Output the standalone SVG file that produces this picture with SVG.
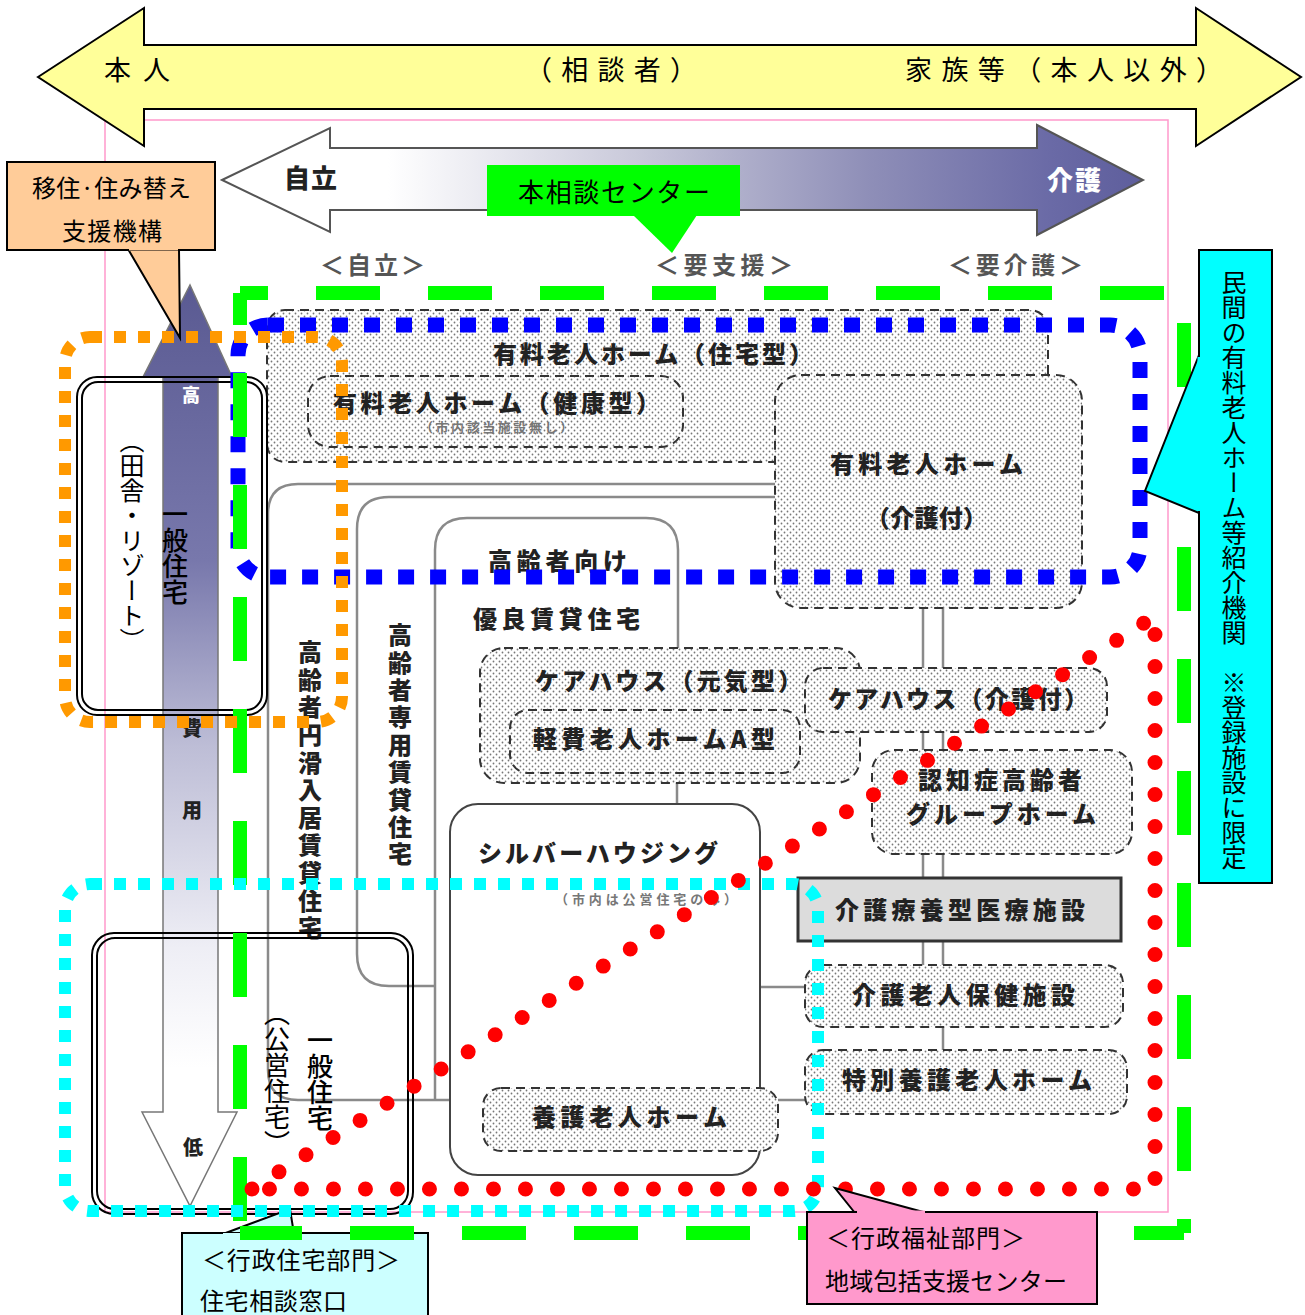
<svg xmlns="http://www.w3.org/2000/svg" width="1305" height="1315" viewBox="0 0 1305 1315">
<defs>
<pattern id="dots" width="6" height="6" patternUnits="userSpaceOnUse">
<rect width="6" height="6" fill="#fff"/>
<circle cx="1.5" cy="1.5" r="0.9" fill="#777"/>
<circle cx="4.5" cy="4.5" r="0.9" fill="#777"/>
</pattern>
<linearGradient id="gh" x1="222" y1="0" x2="1143" y2="0" gradientUnits="userSpaceOnUse">
<stop offset="0" stop-color="#ffffff"/>
<stop offset="0.18" stop-color="#ffffff"/>
<stop offset="0.45" stop-color="#c9c9da"/>
<stop offset="0.7" stop-color="#8f8fb8"/>
<stop offset="0.9" stop-color="#6a6aa6"/>
<stop offset="1" stop-color="#5e5e9c"/>
</linearGradient>
<linearGradient id="gv" x1="0" y1="285" x2="0" y2="1206" gradientUnits="userSpaceOnUse">
<stop offset="0" stop-color="#5a5a92"/>
<stop offset="0.3" stop-color="#7878ac"/>
<stop offset="0.5" stop-color="#bdbdd6"/>
<stop offset="0.72" stop-color="#eeeef5"/>
<stop offset="0.85" stop-color="#ffffff"/>
<stop offset="1" stop-color="#ffffff"/>
</linearGradient>
<style>
.jp{font-family:"Noto Sans CJK JP","Noto Sans",sans-serif}
.lb{font-family:"Noto Sans CJK JP","Noto Sans",sans-serif;font-weight:900;font-size:24px;fill:#222}
.sm{font-family:"Noto Sans CJK JP","Noto Sans",sans-serif;font-weight:700;font-size:13px;fill:#777}
.bx{fill:url(#dots);stroke:#333;stroke-width:2;stroke-dasharray:9 6}
.ln{fill:none;stroke:#8a8a8a;stroke-width:2.5}
.vt{writing-mode:vertical-rl}
.dl{fill:none;stroke:#000;stroke-width:2}
.co{stroke:#000;stroke-width:2}
</style>
</defs>
<rect width="1305" height="1315" fill="#fff"/>

<!-- pink frame -->
<rect x="105" y="120" width="1063" height="1092" fill="none" stroke="#ff99cc" stroke-width="1.5"/>

<!-- yellow double arrow -->
<g id="arrow-consulter">
<polygon points="38,77 144,8 144,45 1196,45 1196,8 1301,77 1196,146 1196,109 144,109 144,146" fill="#ffff99" stroke="#000" stroke-width="2"/>
<text class="jp" x="104" y="80" font-size="27" textLength="66">本人</text>
<text class="jp" x="525" y="80" font-size="27" textLength="172">（相談者）</text>
<text class="jp" x="905" y="80" font-size="27" textLength="318">家族等（本人以外）</text>
</g>

<!-- gradient arrow -->
<g id="arrow-care">
<polygon points="222,180 330,128 330,148 1037,148 1037,125 1143,180 1037,235 1037,210 330,210 330,232" fill="url(#gh)" stroke="#555" stroke-width="2"/>
<text class="jp" x="284" y="188" font-size="26" font-weight="900" fill="#222" textLength="53">自立</text>
<text class="jp" x="1047" y="190" font-size="26" font-weight="900" fill="#fff" textLength="54">介護</text>
</g>

<g id="levels">
<text class="jp" x="320" y="274" font-size="24" font-weight="700" fill="#555" textLength="105">＜自立＞</text>
<text class="jp" x="655" y="274" font-size="24" font-weight="700" fill="#555" textLength="138">＜要支援＞</text>
<text class="jp" x="948" y="274" font-size="24" font-weight="700" fill="#555" textLength="135">＜要介護＞</text>
</g>

<!-- connectors -->
<g id="connectors">
<path class="ln" d="M775 484 H298 Q268 484 268 514 V1070 Q268 1100 298 1100 H450"/>
<path class="ln" d="M775 497 H389 Q357 497 357 529 V954 Q357 986 389 986 H435"/>
<path class="ln" d="M435 1100 V550 Q435 518 467 518 H646 Q678 518 678 550 V648"/>
<path class="ln" d="M677 783 V804"/>
<path class="ln" d="M923 608 V965"/>
<path class="ln" d="M943 608 V1050"/>
<path class="ln" d="M760 987 H805"/>
<path class="ln" d="M778 1100 H805"/>
</g>

<g id="n-jutaku">
<rect class="bx" x="267" y="310" width="781" height="152" rx="18"/>
<text class="lb" x="493" y="363" textLength="320">有料老人ホーム（住宅型）</text>
</g>
<g id="n-kenkou">
<rect class="bx" x="308" y="376" width="375" height="71" rx="22"/>
<text class="lb" x="333" y="412" textLength="327">有料老人ホーム（健康型）</text>
<text class="sm" x="420" y="432" textLength="153">（市内該当施設無し）</text>
</g>
<g id="n-kaigotsuki">
<rect class="bx" x="775" y="375" width="307" height="233" rx="26"/>
<text class="lb" x="830" y="473" textLength="193">有料老人ホーム</text>
<text class="lb" x="866" y="527" textLength="121">（介護付）</text>
</g>
<g id="n-kouyuchin">
<text class="lb" x="488" y="570" textLength="139">高齢者向け</text>
<text class="lb" x="473" y="628" textLength="167">優良賃貸住宅</text>
</g>
<g id="n-kouenchin">
<text class="lb vt" x="310" y="640" letter-spacing="3.6">高齢者円滑入居賃貸住宅</text>
</g>
<g id="n-kousenchin">
<text class="lb vt" x="400" y="623" letter-spacing="3.4">高齢者専用賃貸住宅</text>
</g>
<g id="n-genki">
<rect class="bx" x="480" y="648" width="380" height="135" rx="24"/>
<text class="lb" x="535" y="690" textLength="267">ケアハウス（元気型）</text>
</g>
<g id="n-keihi">
<rect class="bx" x="510" y="710" width="290" height="63" rx="18"/>
<text class="lb" x="533" y="748" textLength="242">軽費老人ホームA型</text>
</g>
<g id="n-caretsuki">
<rect class="bx" x="805" y="668" width="302" height="64" rx="18"/>
<text class="lb" x="828" y="708" textLength="260">ケアハウス（介護付）</text>
</g>
<g id="n-ninchi">
<rect class="bx" x="872" y="750" width="260" height="104" rx="22"/>
<text class="lb" x="918" y="789" textLength="164">認知症高齢者</text>
<text class="lb" x="906" y="823" textLength="190">グループホーム</text>
</g>
<g id="n-ryouyou">
<rect x="798" y="878" width="323" height="63" fill="#dcdcdc" stroke="#333" stroke-width="3"/>
<text class="lb" x="835" y="919" textLength="250">介護療養型医療施設</text>
</g>
<g id="n-rouken">
<rect class="bx" x="805" y="965" width="318" height="62" rx="18"/>
<text class="lb" x="852" y="1004" textLength="223">介護老人保健施設</text>
</g>
<g id="n-tokuyou">
<rect class="bx" x="805" y="1050" width="322" height="64" rx="18"/>
<text class="lb" x="842" y="1089" textLength="250">特別養護老人ホーム</text>
</g>
<g id="n-silver">
<rect x="450" y="804" width="310" height="371" rx="28" fill="#fff" stroke="#444" stroke-width="2"/>
<text class="lb" x="478" y="862" textLength="240">シルバーハウジング</text>
<text class="sm" x="555" y="904" textLength="182">（市内は公営住宅のみ）</text>
</g>
<g id="n-yougo">
<rect class="bx" x="483" y="1088" width="295" height="63" rx="18"/>
<text class="lb" x="532" y="1126" textLength="195">養護老人ホーム</text>
</g>

<!-- cost arrow -->
<g id="arrow-cost">
<polygon points="190,285 232,377 218,377 218,1112 237,1112 190,1206 142,1112 163,1112 163,377 143,377" fill="url(#gv)" stroke="#777" stroke-width="1.5"/>
<text class="jp" x="191" y="402" font-size="18" font-weight="900" fill="#fff" text-anchor="middle">高</text>
<text class="jp" x="192" y="736" font-size="20" font-weight="900" fill="#222" text-anchor="middle">費</text>
<text class="jp" x="192" y="818" font-size="20" font-weight="900" fill="#222" text-anchor="middle">用</text>
<text class="jp" x="193" y="1155" font-size="20" font-weight="900" fill="#222" text-anchor="middle">低</text>
</g>

<g id="n-inaka">
<rect class="dl" x="77" y="377" width="190" height="338" rx="20"/>
<rect class="dl" x="82" y="382" width="180" height="328" rx="16"/>
<text class="jp vt" x="132" y="428" font-size="25" fill="#000">（田舎・リゾート）</text>
<text class="jp vt" x="175" y="501" font-size="26" font-weight="500" fill="#000">一般住宅</text>
</g>
<g id="n-kouei">
<rect class="dl" x="92" y="933" width="321" height="281" rx="22"/>
<rect class="dl" x="97" y="938" width="311" height="271" rx="18"/>
<text class="jp vt" x="320" y="1027" font-size="26" font-weight="500" fill="#000">一般住宅</text>
<text class="jp vt" x="277" y="1000" font-size="26" fill="#000">（公営住宅）</text>
</g>

<!-- light cyan callout (behind green) -->
<g id="n-jutakumadoguchi">
<polygon points="223,1234 290,1209 294,1234" fill="#ccffff" class="co"/>
<rect x="182" y="1233" width="246" height="95" fill="#ccffff" class="co"/>
<line x1="223" y1="1234" x2="294" y2="1234" stroke="#ccffff" stroke-width="2"/>
<text class="jp" x="202" y="1269" font-size="24" textLength="198">＜行政住宅部門＞</text>
<text class="jp" x="200" y="1310" font-size="24" textLength="147">住宅相談窓口</text>
</g>

<!-- region outlines -->
<g id="regions" fill="none">
<rect x="238" y="325" width="902" height="252" rx="30" stroke="#0000ff" stroke-width="15" stroke-dasharray="16 16"/>
<path d="M240 293 H1184" stroke="#00ff00" stroke-width="14" stroke-dasharray="64 48" stroke-dashoffset="36"/>
<path d="M1184 293 V1233" stroke="#00ff00" stroke-width="14" stroke-dasharray="64 48" stroke-dashoffset="82"/>
<path d="M1184 1233 H240" stroke="#00ff00" stroke-width="14" stroke-dasharray="64 48" stroke-dashoffset="14"/>
<path d="M240 293 V1233" stroke="#00ff00" stroke-width="14" stroke-dasharray="64 48" stroke-dashoffset="32"/>
<rect x="65" y="337" width="277" height="385" rx="25" stroke="#ff9900" stroke-width="12" stroke-dasharray="12 12"/>
<rect x="65" y="884" width="753" height="327" rx="25" stroke="#00ffff" stroke-width="12" stroke-dasharray="12 12"/>
<path d="M252 1189 L1155 616 V1189 Z" stroke="#ff0000" stroke-width="15" stroke-linecap="round" stroke-dasharray="0 32"/>
</g>

<!-- callouts -->
<g id="n-center">
<rect x="487" y="165" width="253" height="51" fill="#00ff00"/>
<polygon points="633,215 697,215 672,253" fill="#00ff00"/>
<text class="jp" x="518" y="202" font-size="26" textLength="192">本相談センター</text>
</g>
<g id="n-iju">
<polygon points="128,249 180,338 179,249" fill="#ffcc99" class="co"/>
<rect x="7" y="162" width="208" height="88" fill="#ffcc99" class="co"/>
<line x1="129" y1="249" x2="178" y2="249" stroke="#ffcc99" stroke-width="3"/>
<text class="jp" x="32" y="197" font-size="24" textLength="159">移住·住み替え</text>
<text class="jp" x="62" y="240" font-size="24" textLength="100">支援機構</text>
</g>
<g id="n-minkan">
<polygon points="1199,355 1145,491 1199,513" fill="#00ffff" class="co"/>
<rect x="1199" y="250" width="73" height="633" fill="#00ffff" class="co"/>
<line x1="1199" y1="357" x2="1199" y2="511" stroke="#00ffff" stroke-width="3"/>
<text class="jp vt" x="1234" y="270" font-size="25" fill="#000">民間の有料老人ホーム等紹介機関　※登録施設に限定</text>
</g>
<g id="n-houkatsu">
<polygon points="855,1213 835,1188 927,1213" fill="#ff99cc" class="co"/>
<rect x="807" y="1212" width="290" height="92" fill="#ff99cc" class="co"/>
<line x1="857" y1="1212" x2="925" y2="1212" stroke="#ff99cc" stroke-width="3"/>
<text class="jp" x="826" y="1247" font-size="24" textLength="199">＜行政福祉部門＞</text>
<text class="jp" x="825" y="1290" font-size="24" textLength="242">地域包括支援センター</text>
</g>
</svg>
